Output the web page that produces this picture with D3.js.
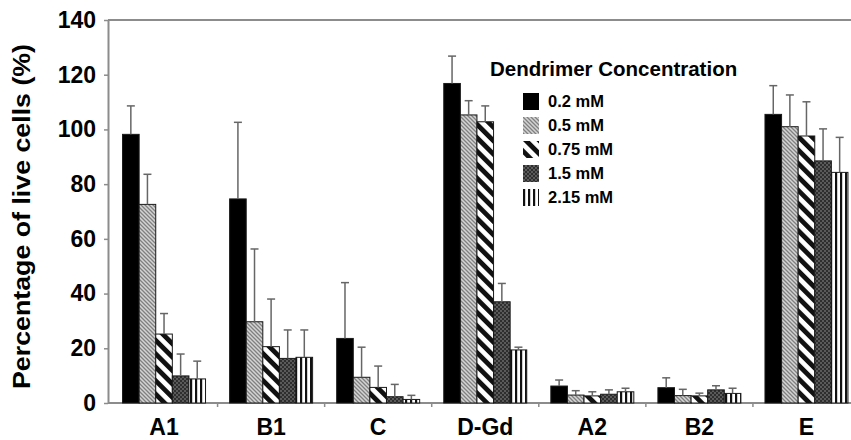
<!DOCTYPE html>
<html>
<head>
<meta charset="utf-8">
<script src="https://cdn.jsdelivr.net/npm/d3@7"></script>
<style>
	body { margin: 0; background: #fff; }
	svg { display: block; font-family: "Liberation Sans", Arial, sans-serif; font-weight: bold; }
</style>
</head>
<body>
<svg id="chart" width="851" height="440"></svg>
<script>
var categories = ["A1", "B1", "C", "D-Gd", "A2", "B2", "E"];
var concentrations = ["0.2 mM", "0.5 mM", "0.75 mM", "1.5 mM", "2.15 mM"];
var yTicks = [0, 20, 40, 60, 80, 100, 120, 140];

// mean % live cells, one array per concentration (in category order)
var live02 = [98.2, 74.6, 23.6, 116.8, 6.2, 5.6, 105.5];
var live05 = [72.6, 29.7, 9.4, 105.3, 2.9, 2.7, 101.0];
var live075 = [25.2, 20.6, 5.7, 102.8, 2.6, 2.6, 97.6];
var live15 = [9.9, 16.3, 2.3, 37.0, 3.2, 4.8, 88.5];
var live215 = [8.8, 16.7, 1.3, 19.4, 4.1, 3.5, 84.3];

// error bars (upper only)
var err02 = [10.4, 28.0, 20.4, 10.0, 2.2, 3.6, 10.5];
var err05 = [11.0, 26.6, 11.0, 5.2, 1.6, 2.3, 11.6];
var err075 = [7.5, 17.4, 7.8, 5.8, 1.5, 1.0, 12.5];
var err15 = [8.0, 10.4, 4.5, 6.7, 1.6, 1.5, 11.7];
var err215 = [6.5, 10.0, 1.5, 1.0, 1.3, 1.9, 12.8];

var means = [live02, live05, live075, live15, live215];
var errs = [err02, err05, err075, err15, err215];

var rows = [];
categories.forEach(function(cat, i) {
	concentrations.forEach(function(conc, j) {
		rows.push({cat: cat, conc: conc, k: j, val: means[j][i], err: errs[j][i]});
	});
});

var svg = d3.select('#chart');
var defs = svg.append('defs');

// fills for each concentration
var p05 = defs.append('pattern').attr('id', 'p1')
	.attr('patternUnits', 'userSpaceOnUse').attr('width', 4).attr('height', 4);
p05.append('rect').attr('width', 4).attr('height', 4).attr('fill', '#d4d4d4');
p05.append('path').attr('d', 'M-1,3 l2,2 M0,0 l4,4 M3,-1 l2,2')
	.attr('stroke', '#808080').attr('stroke-width', 1.3);

var p075 = defs.append('pattern').attr('id', 'p2')
	.attr('patternUnits', 'userSpaceOnUse').attr('width', 9.5).attr('height', 20)
	.attr('patternTransform', 'rotate(-45)');
p075.append('rect').attr('width', 9.5).attr('height', 20).attr('fill', '#fff');
p075.append('rect').attr('width', 4.8).attr('height', 20).attr('fill', '#111');

var p15 = defs.append('pattern').attr('id', 'p3')
	.attr('patternUnits', 'userSpaceOnUse').attr('width', 4).attr('height', 4);
p15.append('rect').attr('width', 4).attr('height', 4).attr('fill', '#5a5a5a');
p15.append('rect').attr('width', 2).attr('height', 2).attr('fill', '#2e2e2e');
p15.append('rect').attr('x', 2).attr('y', 2).attr('width', 2).attr('height', 2).attr('fill', '#2e2e2e');

var p215 = defs.append('pattern').attr('id', 'p4')
	.attr('patternUnits', 'userSpaceOnUse').attr('width', 5).attr('height', 10);
p215.append('rect').attr('width', 5).attr('height', 10).attr('fill', '#fff');
p215.append('rect').attr('width', 2.2).attr('height', 10).attr('fill', '#111');

var fills = ['#000', 'url(#p1)', 'url(#p2)', 'url(#p3)', 'url(#p4)'];

var x0 = d3.scaleBand().domain(categories).range([110.5, 860])
	.paddingInner(0.225).paddingOuter(0.1125);
var x1 = d3.scaleBand().domain(concentrations).range([0, x0.bandwidth()]);
var y = d3.scaleLinear().domain([0, 140]).range([403, 20]);

// frame: top border
svg.append('line')
	.attr('x1', 108).attr('x2', 851)
	.attr('y1', y(140)).attr('y2', y(140))
	.attr('stroke', '#8c8c8c').attr('stroke-width', 2);

// y axis
var yAxis = svg.append('g')
	.attr('transform', 'translate(108,0)')
	.call(d3.axisLeft(y).tickValues(yTicks).tickSize(4).tickSizeOuter(0).tickPadding(8));
yAxis.select('.domain').attr('stroke', '#8c8c8c').attr('stroke-width', 2);
yAxis.selectAll('.tick line').attr('stroke', '#8c8c8c').attr('stroke-width', 1.5);
yAxis.selectAll('.tick text')
	.attr('fill', '#000')
	.style('font-size', '23px')
	.style('font-family', '"Liberation Sans", Arial, sans-serif')
	.style('font-weight', 'bold');

// x axis
var xAxis = svg.append('g')
	.attr('transform', 'translate(0,' + y(0) + ')')
	.call(d3.axisBottom(x0).tickSize(0).tickPadding(16).tickSizeOuter(0));
xAxis.select('.domain').attr('d', 'M108,0H851').attr('stroke', '#8c8c8c').attr('stroke-width', 2);
xAxis.selectAll('.tick text')
	.attr('fill', '#000')
	.style('font-size', '23px')
	.style('font-family', '"Liberation Sans", Arial, sans-serif')
	.style('font-weight', 'bold');
xAxis.selectAll('.sep')
	.data(categories.slice(1))
	.enter().append('line')
	.attr('class', 'sep')
	.attr('x1', function(d) { return x0(d) - x0.step() * x0.paddingInner() / 2; })
	.attr('x2', function(d) { return x0(d) - x0.step() * x0.paddingInner() / 2; })
	.attr('y1', 0).attr('y2', 4)
	.attr('stroke', '#8c8c8c').attr('stroke-width', 1.5);

// bars
var bars = svg.append('g');
bars.selectAll('rect')
	.data(rows)
	.enter().append('rect')
	.attr('x', function(d) { return x0(d.cat) + x1(d.conc); })
	.attr('y', function(d) { return y(d.val); })
	.attr('width', x1.bandwidth())
	.attr('height', function(d) { return y(0) - y(d.val); })
	.attr('fill', function(d) { return fills[d.k]; })
	.attr('stroke', '#1a1a1a')
	.attr('stroke-width', 1);

// error bars
var eb = svg.append('g')
	.attr('stroke', '#666')
	.attr('stroke-width', 1.5);
eb.selectAll('.ev')
	.data(rows)
	.enter().append('line')
	.attr('class', 'ev')
	.attr('x1', function(d) { return x0(d.cat) + x1(d.conc) + x1.bandwidth() / 2; })
	.attr('x2', function(d) { return x0(d.cat) + x1(d.conc) + x1.bandwidth() / 2; })
	.attr('y1', function(d) { return y(d.val); })
	.attr('y2', function(d) { return y(d.val + d.err); });
eb.selectAll('.ec')
	.data(rows)
	.enter().append('line')
	.attr('class', 'ec')
	.attr('x1', function(d) { return x0(d.cat) + x1(d.conc) + x1.bandwidth() / 2 - 4; })
	.attr('x2', function(d) { return x0(d.cat) + x1(d.conc) + x1.bandwidth() / 2 + 4; })
	.attr('y1', function(d) { return y(d.val + d.err); })
	.attr('y2', function(d) { return y(d.val + d.err); });

// y axis title
svg.append('text')
	.attr('transform', 'translate(30,216.5) rotate(-90)')
	.attr('text-anchor', 'middle')
	.attr('fill', '#000')
	.attr('textLength', 345)
	.attr('lengthAdjust', 'spacingAndGlyphs')
	.style('font-size', '24.5px')
	.text('Percentage of live cells (%)');

// legend
var legend = svg.append('g');
legend.append('text')
	.attr('x', 490).attr('y', 76)
	.attr('fill', '#000')
	.style('font-size', '20.5px')
	.text('Dendrimer Concentration');
var item = legend.selectAll('.item')
	.data(concentrations)
	.enter().append('g')
	.attr('class', 'item')
	.attr('transform', function(d, i) { return 'translate(523,' + (93 + i * 24) + ')'; });
item.append('rect')
	.attr('width', 16).attr('height', 17)
	.attr('fill', function(d, i) { return fills[i]; });
item.append('text')
	.attr('x', 25).attr('y', 14)
	.attr('fill', '#000')
	.style('font-size', '16.5px')
	.text(function(d) { return d; });
</script>
</body>
</html>
